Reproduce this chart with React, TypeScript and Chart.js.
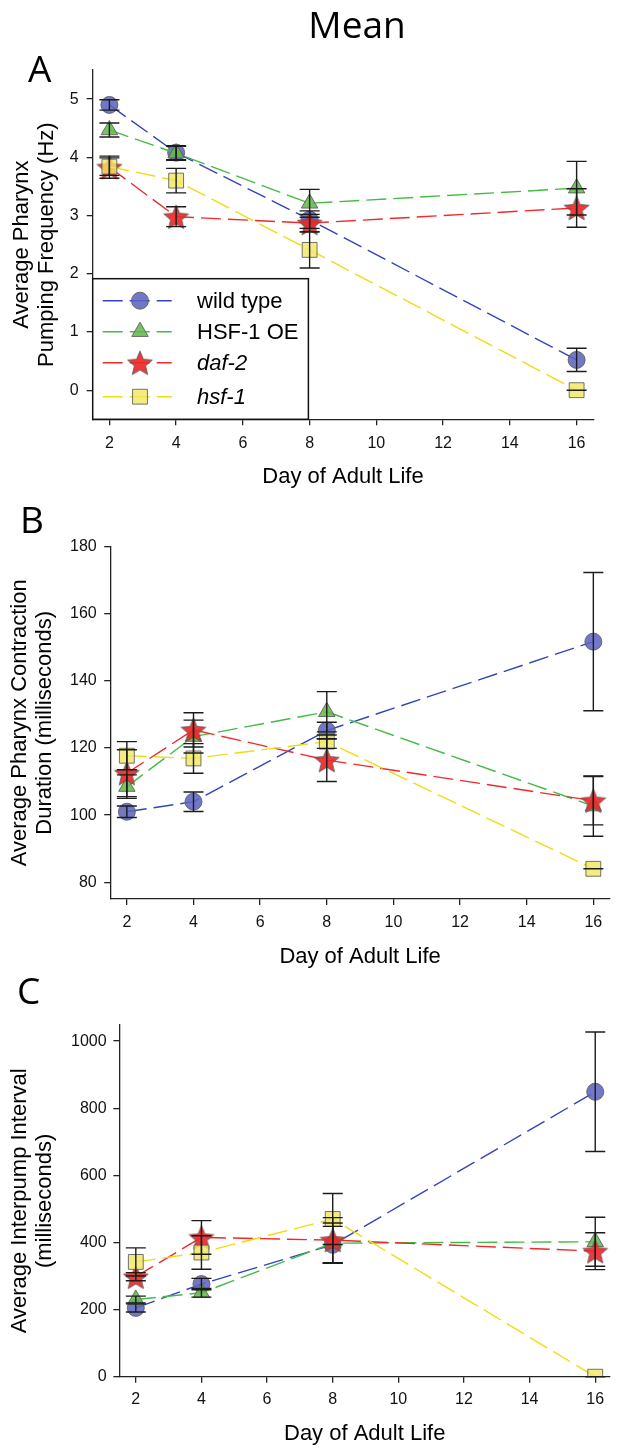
import React, { useEffect, useRef } from 'react';
import { Chart, registerables } from 'chart.js';

Chart.register(...registerables);

// ---------- data ----------
const DAYS = [2, 4, 8, 16];
const SERIES_NAMES = ['wild type', 'HSF-1 OE', 'daf-2', 'hsf-1'];
const SERIES_ITALIC = [false, false, true, true];
const X_TICKS = [2, 4, 6, 8, 10, 12, 14, 16];

// Panel A: Average Pharynx Pumping Frequency (Hz)
const Y_TICKS_A = [0, 1, 2, 3, 4, 5];
const WT_A = [4.9, 4.08, 2.93, 0.52];
const WT_A_ERR = [0.09, 0.12, 0.15, 0.2];
const OE_A = [4.47, 4.07, 3.21, 3.47];
const OE_A_ERR = [0.12, 0.12, 0.24, 0.46];
const DAF_A = [3.83, 2.98, 2.87, 3.13];
const DAF_A_ERR = [0.19, 0.17, 0.15, 0.33];
const HSF_A = [3.84, 3.6, 2.41, 0.0];
const HSF_A_ERR = [0.15, 0.21, 0.31, 0.0];

// Panel B: Average Pharynx Contraction Duration (ms)
const Y_TICKS_B = [80, 100, 120, 140, 160, 180];
const WT_B = [101, 104, 125.2, 151.7];
const WT_B_ERR = [1.7, 2.9, 2.5, 20.6];
const OE_B = [108.5, 123.4, 130.8, 102.7];
const OE_B_ERR = [3.5, 4.9, 6, 9];
const DAF_B = [112.5, 125.4, 116.4, 104.3];
const DAF_B_ERR = [7, 5.1, 6.4, 7.2];
const HSF_B = [117.7, 116.9, 121.9, 84];
const HSF_B_ERR = [4.2, 4.4, 2, 0];

// Panel C: Average Interpump Interval (ms)
const Y_TICKS_C = [0, 200, 400, 600, 800, 1000];
const WT_C = [205, 276, 393, 849];
const WT_C_ERR = [12, 17, 55, 178];
const OE_C = [230, 250, 398, 402];
const OE_C_ERR = [10, 13, 60, 73];
const DAF_C = [298, 415, 407, 374];
const DAF_C_ERR = [12, 50, 67, 55];
const HSF_C = [342, 370, 470, 0];
const HSF_C_ERR = [42, 50, 76, 0];

// ---------- styles ----------
const SANS = "'Liberation Sans', Arial, Helvetica, sans-serif";
const OPEN = "'Open Sans', 'Noto Sans', sans-serif";
const LINE_COLORS = ['#3344bb', '#44bb44', '#ee2a2a', '#eedd11'];
const FILL_COLORS = [
  'rgba(95,100,190,0.88)',
  'rgba(100,185,75,0.88)',
  'rgba(236,40,40,0.92)',
  'rgba(242,232,100,0.82)',
];
const MARKER_BORDER = 'rgba(90,90,90,0.85)';
const SHAPES = ['circle', 'triangle', 'star', 'rect'];
const RADII = [8.5, 9.5, 13, 10.5];

function makeStar(R: number, fill: string, stroke: string): HTMLCanvasElement {
  const c = document.createElement('canvas');
  const s = Math.ceil(R * 2 + 4);
  c.width = s;
  c.height = s;
  const ctx = c.getContext('2d')!;
  const cx = s / 2;
  const cy = s / 2 + R * 0.1;
  const r = R * 0.45;
  ctx.beginPath();
  for (let i = 0; i < 10; i++) {
    const rad = (i * Math.PI) / 5;
    const rr = i % 2 === 0 ? R : r;
    const x = cx + Math.sin(rad) * rr;
    const y = cy - Math.cos(rad) * rr;
    if (i === 0) ctx.moveTo(x, y);
    else ctx.lineTo(x, y);
  }
  ctx.closePath();
  ctx.fillStyle = fill;
  ctx.fill();
  ctx.lineWidth = 1;
  ctx.strokeStyle = stroke;
  ctx.stroke();
  return c;
}

function drawMarker(ctx: CanvasRenderingContext2D, k: number, x: number, y: number, star: HTMLCanvasElement) {
  const r = RADII[k];
  ctx.save();
  ctx.fillStyle = FILL_COLORS[k];
  ctx.strokeStyle = MARKER_BORDER;
  ctx.lineWidth = 1;
  ctx.setLineDash([]);
  if (SHAPES[k] === 'star') {
    ctx.drawImage(star, x - star.width / 2, y - star.height / 2);
    ctx.restore();
    return;
  }
  ctx.beginPath();
  if (SHAPES[k] === 'circle') {
    ctx.arc(x, y, r, 0, Math.PI * 2);
  } else if (SHAPES[k] === 'triangle') {
    let rad = 0;
    ctx.moveTo(x + Math.sin(rad) * r, y - Math.cos(rad) * r);
    rad += (2 * Math.PI) / 3;
    ctx.lineTo(x + Math.sin(rad) * r, y - Math.cos(rad) * r);
    rad += (2 * Math.PI) / 3;
    ctx.lineTo(x + Math.sin(rad) * r, y - Math.cos(rad) * r);
    ctx.closePath();
  } else {
    const s = Math.SQRT1_2 * r;
    ctx.rect(x - s, y - s, 2 * s, 2 * s);
  }
  ctx.fill();
  ctx.stroke();
  ctx.restore();
}

const errorBarPlugin = {
  id: 'errorBars',
  afterDatasetsDraw(chart: any) {
    const ctx = chart.ctx;
    const xs = chart.scales.x;
    const ys = chart.scales.y;
    ctx.save();
    ctx.strokeStyle = '#1c1c1c';
    ctx.lineWidth = 1.4;
    ctx.setLineDash([]);
    chart.data.datasets.forEach((ds: any) => {
      const errs = ds.errors;
      if (!errs) return;
      ds.data.forEach((p: any, i: number) => {
        const x = xs.getPixelForValue(p.x);
        const yt = ys.getPixelForValue(p.y + errs[i]);
        const yb = ys.getPixelForValue(p.y - errs[i]);
        ctx.beginPath();
        ctx.moveTo(x, yt);
        ctx.lineTo(x, yb);
        ctx.moveTo(x - 10, yt);
        ctx.lineTo(x + 10, yt);
        ctx.moveTo(x - 10, yb);
        ctx.lineTo(x + 10, yb);
        ctx.stroke();
      });
    });
    ctx.restore();
  },
};

type TextItem = { text: string; x: number; y: number; font: string; align: CanvasTextAlign };

const textPlugin = {
  id: 'panelTexts',
  afterDraw(chart: any) {
    const items: TextItem[] = chart.options.plugins.panelTexts?.items || [];
    const ctx = chart.ctx;
    ctx.save();
    ctx.fillStyle = '#000';
    ctx.textBaseline = 'alphabetic';
    items.forEach((it) => {
      ctx.font = it.font;
      ctx.textAlign = it.align;
      ctx.fillText(it.text, it.x, it.y);
    });
    ctx.restore();
  },
};

function makeLegendPlugin(star: HTMLCanvasElement) {
  return {
    id: 'boxLegend',
    afterDraw(chart: any) {
      const opts = chart.options.plugins.boxLegend;
      if (!opts || !opts.show) return;
      const ctx = chart.ctx;
      const area = chart.chartArea;
      const left = area.left;
      const right = left + 215.7;
      const top = area.bottom - 140.6;
      const bottom = area.bottom;
      const rows = [22, 53, 84, 118];
      ctx.save();
      ctx.fillStyle = '#fff';
      ctx.fillRect(left, top, right - left, bottom - top);
      ctx.strokeStyle = '#111';
      ctx.lineWidth = 1.5;
      ctx.strokeRect(left, top, right - left, bottom - top);
      SERIES_NAMES.forEach((name, k) => {
        const y = top + rows[k];
        ctx.save();
        ctx.strokeStyle = LINE_COLORS[k];
        ctx.lineWidth = 1.4;
        ctx.setLineDash([20, 7]);
        ctx.beginPath();
        ctx.moveTo(left + 10, y);
        ctx.lineTo(left + 79, y);
        ctx.stroke();
        ctx.restore();
        drawMarker(ctx, k, left + 47.3, y, star);
        ctx.fillStyle = '#000';
        ctx.font = (SERIES_ITALIC[k] ? 'italic ' : '') + '22px ' + SANS;
        ctx.textAlign = 'left';
        ctx.textBaseline = 'middle';
        ctx.fillText(name, left + 104.3, y + 1);
      });
      ctx.restore();
    },
  };
}

type PanelSpec = {
  height: number;
  series: { values: number[]; errors: number[] }[];
  yTicks: number[];
  yMin: number;
  yMax: number;
  xMax: number;
  yTitle: string[];
  yWidth: number;
  xHeight: number;
  padTop: number;
  padRight: number;
  padBottom: number;
  yTitlePad: number;
  yTickPad: number;
  xTickPad: number;
  legend: boolean;
  texts: TextItem[];
};

function buildConfig(p: PanelSpec, star: HTMLCanvasElement) {
  const datasets = p.series.map((s, k) => ({
    label: SERIES_NAMES[k],
    data: DAYS.map((d, i) => ({ x: d, y: s.values[i] })),
    errors: s.errors,
    borderColor: LINE_COLORS[k],
    backgroundColor: FILL_COLORS[k],
    borderWidth: 1.4,
    borderDash: [20, 7],
    tension: 0,
    fill: false,
    pointStyle: SHAPES[k] === 'star' ? star : SHAPES[k],
    pointRadius: RADII[k],
    pointBackgroundColor: FILL_COLORS[k],
    pointBorderColor: MARKER_BORDER,
    pointBorderWidth: 1,
    order: 3 - k,
  }));
  const tickFont = { family: SANS, size: 16 };
  const titleFont = { family: SANS, size: 22, lineHeight: 1.2 };
  return {
    type: 'line',
    data: { datasets },
    plugins: [errorBarPlugin, makeLegendPlugin(star), textPlugin],
    options: {
      animation: false,
      responsive: false,
      devicePixelRatio: 1,
      layout: { padding: { top: p.padTop, right: p.padRight, bottom: p.padBottom, left: 0 } },
      plugins: {
        legend: { display: false },
        tooltip: { enabled: false },
        boxLegend: { show: p.legend },
        panelTexts: { items: p.texts },
      },
      scales: {
        x: {
          type: 'linear',
          min: 1.5,
          max: p.xMax,
          afterBuildTicks: (s: any) => {
            s.ticks = X_TICKS.map((v) => ({ value: v }));
          },
          afterFit: (s: any) => {
            s.height = p.xHeight;
          },
          grid: { display: true, drawOnChartArea: false, drawTicks: true, tickLength: 6, color: '#222', lineWidth: 1.3 },
          border: { display: true, color: '#222', width: 1.3 },
          ticks: {
            color: '#111',
            font: tickFont,
            padding: p.xTickPad,
            maxRotation: 0,
            autoSkip: false,
            callback: (v: any) => String(v),
          },
          title: { display: true, text: 'Day of Adult Life', color: '#000', font: titleFont, padding: 0 },
        },
        y: {
          type: 'linear',
          min: p.yMin,
          max: p.yMax,
          afterBuildTicks: (s: any) => {
            s.ticks = p.yTicks.map((v) => ({ value: v }));
          },
          afterFit: (s: any) => {
            s.width = p.yWidth;
          },
          grid: { display: true, drawOnChartArea: false, drawTicks: true, tickLength: 6, color: '#222', lineWidth: 1.3 },
          border: { display: true, color: '#222', width: 1.3 },
          ticks: {
            color: '#111',
            font: tickFont,
            padding: p.yTickPad,
            autoSkip: false,
            callback: (v: any) => String(v),
          },
          title: {
            display: true,
            text: p.yTitle,
            color: '#000',
            font: { family: SANS, size: 22, lineHeight: 1.13 },
            padding: { top: p.yTitlePad, bottom: 0 },
          },
        },
      },
    },
  };
}

const LETTER_FONT = '37px ' + OPEN;

const PANELS: { top: number; spec: PanelSpec }[] = [
  {
    top: 0,
    spec: {
      height: 490,
      series: [
        { values: WT_A, errors: WT_A_ERR },
        { values: OE_A, errors: OE_A_ERR },
        { values: DAF_A, errors: DAF_A_ERR },
        { values: HSF_A, errors: HSF_A_ERR },
      ],
      yTicks: Y_TICKS_A,
      yMin: -0.5,
      yMax: 5.5,
      xMax: 16.5,
      yTitle: ['Average Pharynx', 'Pumping Frequency (Hz)'],
      yWidth: 92.7,
      xHeight: 70.7,
      padTop: 70,
      padRight: 30.7,
      padBottom: 0,
      yTitlePad: 9.4,
      yTickPad: 8,
      xTickPad: 9,
      legend: true,
      texts: [
        { text: 'Mean', x: 357, y: 38, font: LETTER_FONT, align: 'center' },
        { text: 'A', x: 28, y: 82, font: LETTER_FONT, align: 'left' },
      ],
    },
  },
  {
    top: 490,
    spec: {
      height: 480,
      series: [
        { values: WT_B, errors: WT_B_ERR },
        { values: OE_B, errors: OE_B_ERR },
        { values: DAF_B, errors: DAF_B_ERR },
        { values: HSF_B, errors: HSF_B_ERR },
      ],
      yTicks: Y_TICKS_B,
      yMin: 75,
      yMax: 180,
      xMax: 16.5,
      yTitle: ['Average Pharynx Contraction', 'Duration (milliseconds)'],
      yWidth: 110.2,
      xHeight: 71,
      padTop: 56.7,
      padRight: 7.8,
      padBottom: 0,
      yTitlePad: 7.4,
      yTickPad: 7.5,
      xTickPad: 8.3,
      legend: false,
      texts: [{ text: 'B', x: 20, y: 43, font: LETTER_FONT, align: 'left' }],
    },
  },
  {
    top: 970,
    spec: {
      height: 479,
      series: [
        { values: WT_C, errors: WT_C_ERR },
        { values: OE_C, errors: OE_C_ERR },
        { values: DAF_C, errors: DAF_C_ERR },
        { values: HSF_C, errors: HSF_C_ERR },
      ],
      yTicks: Y_TICKS_C,
      yMin: 0,
      yMax: 1048,
      xMax: 16.45,
      yTitle: ['Average Interpump Interval', '(milliseconds)'],
      yWidth: 119.4,
      xHeight: 70.5,
      padTop: 55,
      padRight: 0,
      padBottom: 1.8,
      yTitlePad: 7.4,
      yTickPad: 6.8,
      xTickPad: 7.6,
      legend: false,
      texts: [{ text: 'C', x: 17, y: 34, font: LETTER_FONT, align: 'left' }],
    },
  },
];

function Panel({ top, spec }: { top: number; spec: PanelSpec }) {
  const ref = useRef<HTMLCanvasElement | null>(null);
  useEffect(() => {
    if (!ref.current) return;
    const star = makeStar(RADII[2], FILL_COLORS[2], MARKER_BORDER);
    const chart = new Chart(ref.current, buildConfig(spec, star) as any);
    return () => chart.destroy();
  }, [spec]);
  return (
    <canvas
      ref={ref}
      width={624}
      height={spec.height}
      style={{ position: 'absolute', left: 0, top, width: 624, height: spec.height }}
    />
  );
}

export default function App() {
  return (
    <div style={{ position: 'absolute', left: 0, top: 0, width: 624, height: 1449, background: '#fff', overflow: 'hidden' }}>
      {PANELS.map((p, i) => (
        <Panel key={i} top={p.top} spec={p.spec} />
      ))}
    </div>
  );
}
